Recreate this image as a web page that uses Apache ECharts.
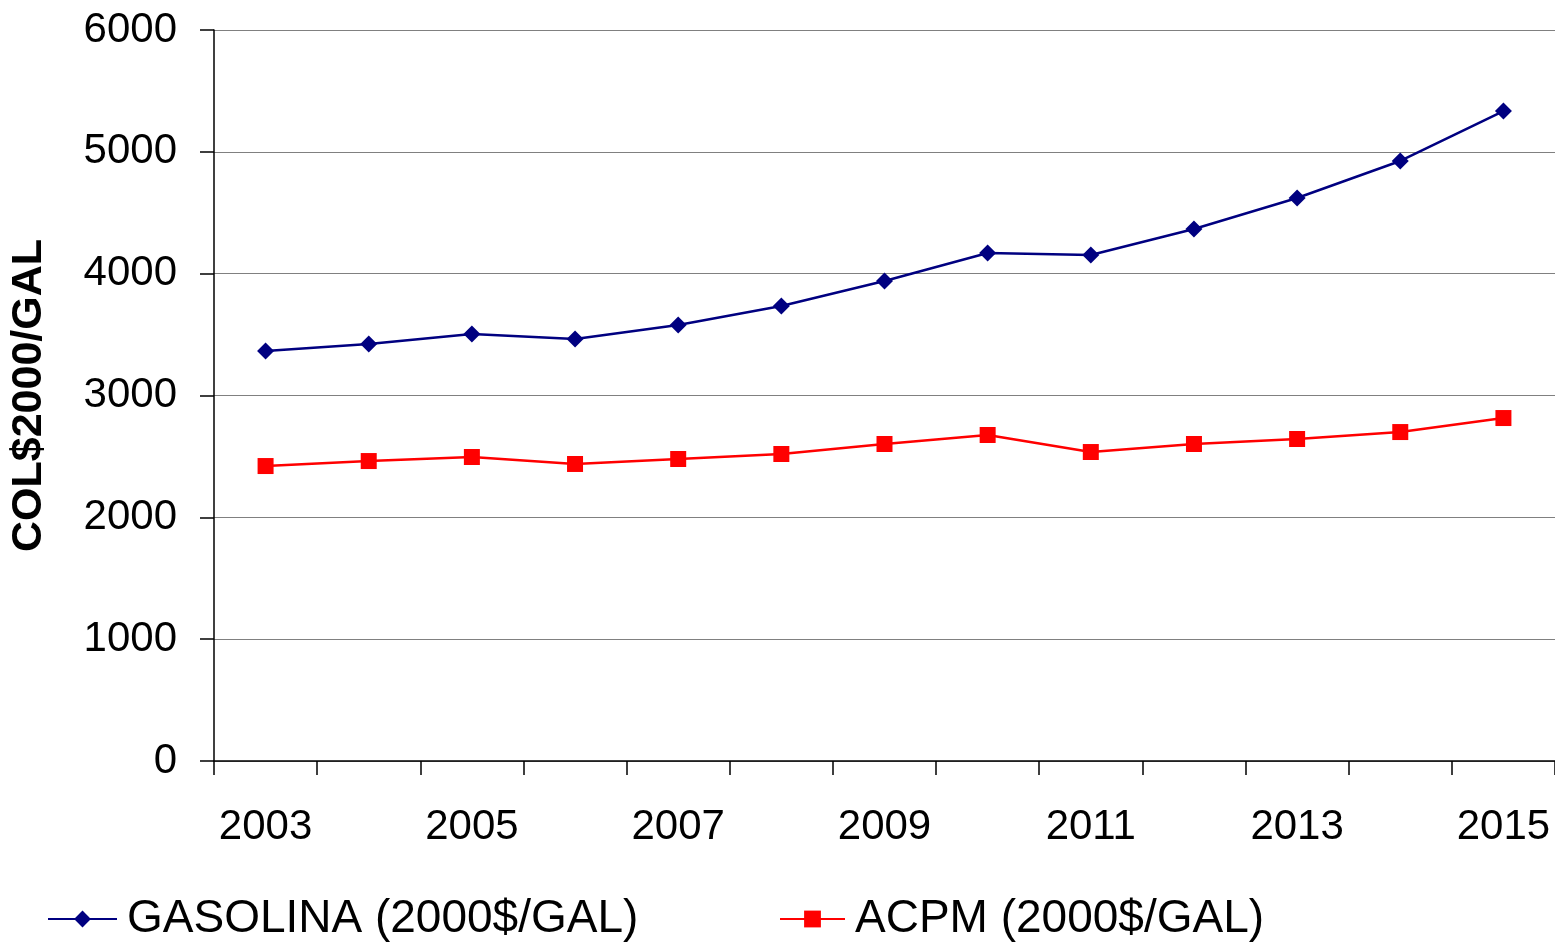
<!DOCTYPE html>
<html><head><meta charset="utf-8">
<script src="https://cdn.jsdelivr.net/npm/echarts@6/dist/echarts.min.js"></script>
<style>html,body{margin:0;padding:0;background:#fff}#c{width:1555px;height:942px}</style>
</head><body><div id="c"></div>
<script>
const years = ['2003','2004','2005','2006','2007','2008','2009','2010','2011','2012','2013','2014','2015'];
const gasolina = [3365, 3423, 3505, 3464, 3579, 3735, 3940, 4170, 4153, 4367, 4621, 4925, 5335];
const acpm = [2421, 2462, 2495, 2438, 2479, 2520, 2602, 2676, 2536, 2602, 2643, 2700, 2815];
const yTicks = [0, 1000, 2000, 3000, 4000, 5000, 6000];
const names = ['GASOLINA (2000$/GAL)', 'ACPM (2000$/GAL)'];

const chart = echarts.init(document.getElementById('c'), null, {renderer: 'canvas'});
const font = 'Liberation Sans, Arial, sans-serif';
chart.setOption({
  animation: false,
  textStyle: {fontFamily: font},
  grid: {left: 212, right: 0, top: 30, bottom: 181, containLabel: false},
  legend: [
    {data: [names[0]], left: 47, top: 896, padding: 0, itemWidth: 69, itemHeight: 21, itemGap: 10,
     textStyle: {fontSize: 46, color: '#000', fontFamily: font, padding: [0, 0, 0, 5]}},
    {data: [names[1]], left: 779, top: 896, padding: 0, itemWidth: 65, itemHeight: 21,
     textStyle: {fontSize: 46, color: '#000', fontFamily: font, padding: [0, 0, 0, 5]}}
  ],
  xAxis: {
    type: 'category', data: years, boundaryGap: true,
    axisLine: {lineStyle: {color: '#000', width: 1.5}},
    axisTick: {show: true, interval: 0, length: 14, lineStyle: {color: '#000', width: 1.5}},
    axisLabel: {interval: 1, fontSize: 42, color: '#000', margin: 45, fontFamily: font},
    splitLine: {show: false}
  },
  yAxis: {
    type: 'value', min: yTicks[0], max: yTicks[yTicks.length-1], interval: 1000,
    name: 'COL$2000/GAL', nameLocation: 'middle', nameRotate: 90, nameGap: 163,
    nameTextStyle: {fontSize: 43, fontWeight: 'bold', color: '#000', fontFamily: font},
    axisLine: {show: true, lineStyle: {color: '#000', width: 1.5}},
    axisTick: {show: true, length: 14, lineStyle: {color: '#000', width: 1.5}},
    axisLabel: {fontSize: 42, color: '#000', margin: 37, fontFamily: font,
                formatter: function (v) { return String(v); }},
    splitLine: {show: true, lineStyle: {color: '#808080', width: 1.2}}
  },
  series: [
    {name: names[0], type: 'line', data: gasolina, symbol: 'diamond', symbolSize: 17,
     lineStyle: {color: '#000080', width: 2.5}, itemStyle: {color: '#000080'}},
    {name: names[1], type: 'line', data: acpm, symbol: 'rect', symbolSize: 16,
     lineStyle: {color: '#FF0000', width: 2.5}, itemStyle: {color: '#FF0000'}}
  ]
});
</script></body></html>
